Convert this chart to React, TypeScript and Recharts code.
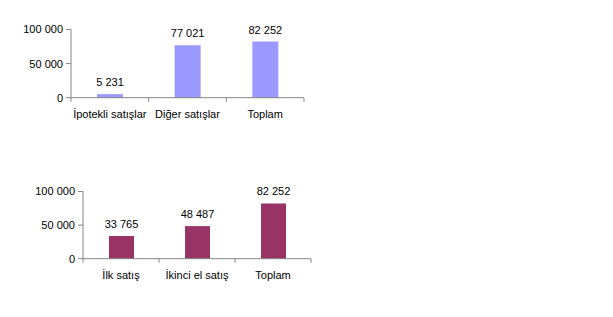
import { BarChart, Bar, XAxis, YAxis, LabelList } from 'recharts';

// Üst grafik: ipotekli / diğer satışlar
const topCategories = ['İpotekli satışlar', 'Diğer satışlar', 'Toplam'];
const topValues = [5231, 77021, 82252];

// Alt grafik: ilk satış / ikinci el satış
const bottomCategories = ['İlk satış', 'İkinci el satış', 'Toplam'];
const bottomValues = [33765, 48487, 82252];

const yTicks = [0, 50000, 100000];

const FONT = '"Liberation Sans", Arial, sans-serif';
const AXIS = '#868686';

// binlik ayırıcı: bölünmeyen boşluk (etiket satır kırmasın)
const fmt = (v: number | string) => String(v).replace(/\B(?=(\d{3})+(?!\d))/g, '\u00A0');

// Excel tarzı: tik çizgileri kategori sınırlarında
function CatTick(props: any) {
    const { x, y, payload, index, visibleTicksCount } = props;
    const half = payload?.offset ?? 0;
    const last = index === visibleTicksCount - 1;
    return (
        <g>
            <line x1={x - half} x2={x - half} y1={y} y2={y + 4} stroke={AXIS} />
            {last && <line x1={x + half} x2={x + half} y1={y} y2={y + 4} stroke={AXIS} />}
            <text x={x} y={y + 20} textAnchor="middle" fontSize={11} fontFamily={FONT} fill="#000">
                {payload.value}
            </text>
        </g>
    );
}

interface ChartProps {
    categories: string[];
    values: number[];
    color: string;
    yWidth: number;
    right: number;
    top: number;
    bottom: number;
    barSize: number;
}

function SmallBarChart({ categories, values, color, yWidth, right, top, bottom, barSize }: ChartProps) {
    const data = categories.map((name, i) => ({ name, value: values[i] }));
    return (
        <BarChart width={330} height={130} data={data} margin={{ top, right, bottom, left: 0 }}>
            <XAxis
                dataKey="name"
                tick={<CatTick />}
                tickLine={false}
                tickSize={0}
                tickMargin={0}
                height={20}
                axisLine={{ stroke: AXIS }}
                interval={0}
            />
            <YAxis
                width={yWidth}
                domain={[0, 100000]}
                ticks={yTicks}
                tickFormatter={fmt}
                tickSize={5}
                tickMargin={3}
                tickLine={{ stroke: AXIS }}
                axisLine={{ stroke: AXIS }}
                tick={{ fontSize: 11, fontFamily: FONT, fill: '#000' }}
            />
            <Bar dataKey="value" fill={color} barSize={barSize} isAnimationActive={false}>
                <LabelList
                    dataKey="value"
                    position="top"
                    offset={8}
                    formatter={(v: any) => fmt(v)}
                    style={{ fontSize: 11, fontFamily: FONT, fill: '#000' }}
                />
            </Bar>
        </BarChart>
    );
}

export default function App() {
    return (
        <div style={{ position: 'absolute', left: 0, top: 0, width: 613, height: 317, background: '#fff' }}>
            <div style={{ position: 'absolute', left: 0, top: 0 }}>
                <SmallBarChart
                    categories={topCategories}
                    values={topValues}
                    color="#9999FF"
                    yWidth={71}
                    right={26}
                    top={29.5}
                    bottom={12.3}
                    barSize={26}
                />
            </div>
            <div style={{ position: 'absolute', left: 0, top: 160 }}>
                <SmallBarChart
                    categories={bottomCategories}
                    values={bottomValues}
                    color="#993366"
                    yWidth={83}
                    right={19}
                    top={31.5}
                    bottom={11.3}
                    barSize={25}
                />
            </div>
        </div>
    );
}
